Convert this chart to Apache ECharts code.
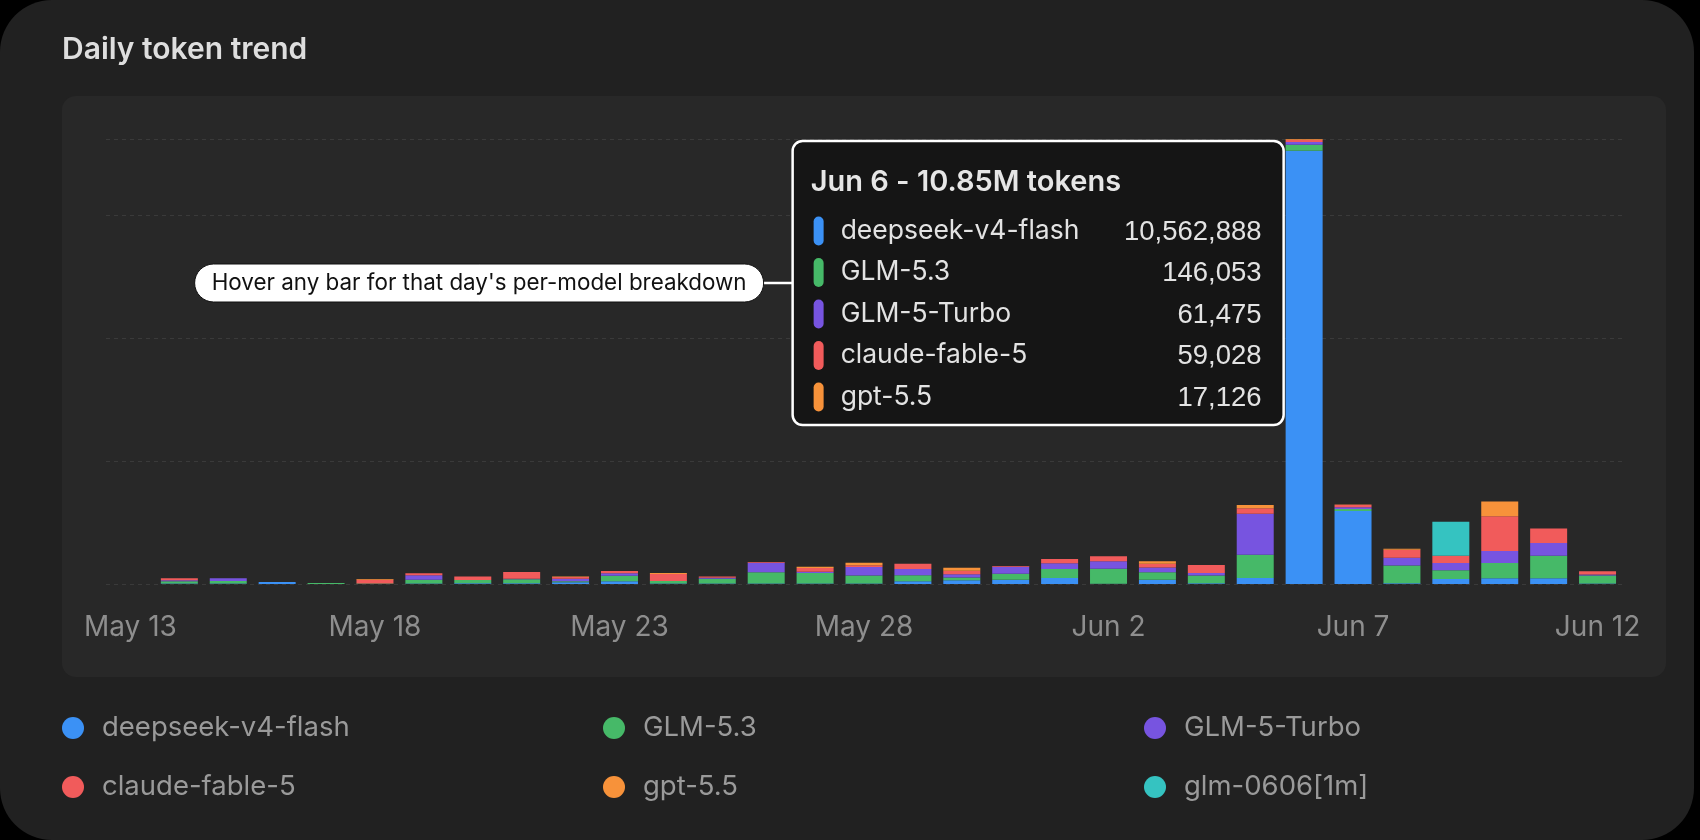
<!DOCTYPE html>
<html>
<head>
<meta charset="utf-8">
<title>Daily token trend</title>
<script src="https://cdn.jsdelivr.net/npm/echarts@6/dist/echarts.min.js"></script>
<style>
  html, body { margin: 0; padding: 0; background: #000; }
  #card { position: absolute; left: 0; top: 0; width: 1694px; height: 840px; border-radius: 52px; background: #212121; overflow: hidden; }
  #chart { width: 1694px; height: 840px; }
</style>
</head>
<body>
<div id="card"><div id="chart"></div></div>
<script>
// categories
var days = ['May 13', 'May 14', 'May 15', 'May 16', 'May 17', 'May 18', 'May 19', 'May 20',
    'May 21', 'May 22', 'May 23', 'May 24', 'May 25', 'May 26', 'May 27', 'May 28', 'May 29',
    'May 30', 'May 31', 'Jun 1', 'Jun 2', 'Jun 3', 'Jun 4', 'Jun 5', 'Jun 6', 'Jun 7', 'Jun 8',
    'Jun 9', 'Jun 10', 'Jun 11', 'Jun 12'];

var modelNames = ['deepseek-v4-flash', 'GLM-5.3', 'GLM-5-Turbo', 'claude-fable-5', 'gpt-5.5', 'glm-0606[1m]'];
var modelColors = ['#3b91f5', '#46b968', '#7754e0', '#f15b5b', '#f7923a', '#35c3c1'];

// tokens per day, one array per model
var deepseekV4Flash = [0, 10000, 15000, 50000, 0, 0, 10000, 20000, 20000, 40000, 65000, 10000, 10000, 10000, 10000, 10000,
    70000, 90000, 105000, 145000, 5000, 105000, 20000, 146000, 10562888, 1780000, 20000, 122000, 138000, 138000, 10000];
var glm53 = [0, 60000, 60000, 0, 24000, 10000, 95000, 80000, 95000, 30000, 135000, 65000, 115000, 275000, 260000, 200000,
    145000, 70000, 145000, 220000, 365000, 180000, 185000, 569000, 146053, 50000, 430000, 211000, 374000, 553000, 200000];
var glm5Turbo = [0, 20000, 65000, 0, 0, 0, 110000, 0, 10000, 55000, 65000, 0, 25000, 235000, 30000, 205000,
    150000, 80000, 170000, 140000, 185000, 120000, 65000, 1000000, 61475, 40000, 187000, 179000, 293000, 309000, 20000];
var claudeFable5 = [0, 50000, 0, 0, 0, 95000, 45000, 85000, 165000, 45000, 50000, 170000, 30000, 16000, 90000, 40000,
    130000, 85000, 18000, 105000, 120000, 90000, 195000, 130000, 59028, 60000, 200000, 179000, 846000, 350000, 80000];
var gpt55 = [0, 0, 0, 0, 0, 15000, 0, 0, 0, 10000, 0, 25000, 0, 0, 32000, 65000,
    0, 70000, 0, 0, 0, 57000, 0, 81000, 17126, 10000, 24000, 0, 358000, 0, 0];
var glm0606 = [0, 0, 0, 0, 0, 0, 0, 0, 0, 0, 0, 0, 0, 0, 0, 0,
    0, 0, 0, 0, 0, 0, 0, 0, 0, 0, 0, 829000, 0, 0, 0];

var modelData = [deepseekV4Flash, glm53, glm5Turbo, claudeFable5, gpt55, glm0606];

var yInterval = 3000000;
var highlightDay = 'Jun 6';
var calloutText = "Hover any bar for that day's per-model breakdown";

var FONT = 'Inter, "Noto Sans", sans-serif';
var NUM_FONT = '"Liberation Sans", Arial, sans-serif';

var dayTotals = days.map(function (d, i) {
    var s = 0;
    modelData.forEach(function (arr) { s += arr[i]; });
    return s;
});
var maxTotal = Math.max.apply(null, dayTotals);

var chart = echarts.init(document.getElementById('chart'));

var series = modelNames.map(function (name, k) {
    return {
        name: name,
        type: 'bar',
        stack: 'tokens',
        barWidth: 37,
        itemStyle: { color: modelColors[k] },
        data: modelData[k]
    };
});

var legendText = { color: '#9a9a9a', fontSize: 27.5, fontFamily: FONT, lineHeight: 22, padding: [0, 0, 0, 13] };
function legendCol(left, names) {
    return {
        orient: 'vertical', left: left, top: 714, itemGap: 31, padding: 0,
        icon: 'circle', itemWidth: 22, itemHeight: 22,
        selectedMode: false,
        textStyle: legendText,
        data: names
    };
}

var option = {
    animation: false,
    backgroundColor: 'transparent',
    title: {
        text: 'Daily token trend',
        left: 57, top: 30,
        textStyle: { color: '#dedede', fontSize: 30, fontWeight: 600, fontFamily: FONT }
    },
    legend: [
        legendCol(62, [modelNames[0], modelNames[3]]),
        legendCol(603, [modelNames[1], modelNames[4]]),
        legendCol(1144, [modelNames[2], modelNames[5]])
    ],
    grid: { left: 106, right: 72, top: 139, bottom: 256 },
    xAxis: {
        type: 'category',
        data: days,
        axisLine: { show: false },
        axisTick: { show: false },
        axisLabel: { interval: 4, color: '#8e8e8e', fontSize: 28, fontFamily: FONT, margin: 30 }
    },
    yAxis: {
        type: 'value',
        min: 0,
        max: maxTotal,
        interval: yInterval,
        axisLabel: { show: false },
        axisLine: { show: false },
        axisTick: { show: false },
        splitLine: { lineStyle: { color: '#3a3a3a', type: [4, 4], width: 1 } }
    },
    graphic: { elements: [] },
    series: series
};
chart.setOption(option);

// static tooltip for the highlighted day + callout pill
function buildTip() {
    var hi = days.indexOf(highlightDay);
    var barX = chart.convertToPixel({ xAxisIndex: 0 }, hi);
    var topY = chart.convertToPixel({ yAxisIndex: 0 }, dayTotals[hi]);
    var boxW = 491, boxH = 284;
    var L = barX - 37 / 2 - 2 - boxW;
    var T = topY + 2;

    var els = [{
        type: 'rect', z: -100, silent: true,
        shape: { x: 62, y: 96, width: 1604, height: 581, r: 14 },
        style: { fill: '#282828' }
    }, {
        type: 'rect', z: 100,
        shape: { x: L, y: T, width: boxW, height: boxH, r: 10 },
        style: { fill: '#151515', stroke: '#ffffff', lineWidth: 2.5 }
    }, {
        type: 'text', z: 101,
        style: {
            text: highlightDay + ' - ' + (dayTotals[hi] / 1e6).toFixed(2) + 'M tokens',
            x: L + 18, y: T + 41, textAlign: 'left', textVerticalAlign: 'middle',
            font: '600 29px ' + FONT, fill: '#e6e6e6'
        }
    }];

    var row = 0;
    modelNames.forEach(function (name, k) {
        var v = modelData[k][hi];
        if (!v) return;
        var cy = T + 90 + row * 41.5;
        els.push({
            type: 'rect', z: 101,
            shape: { x: L + 21, y: cy - 14.5, width: 10, height: 29, r: 5 },
            style: { fill: modelColors[k] }
        });
        els.push({
            type: 'text', z: 101,
            style: { text: name, x: L + 48, y: cy, textAlign: 'left', textVerticalAlign: 'middle',
                font: '26.5px ' + FONT, fill: '#e3e3e3' }
        });
        els.push({
            type: 'text', z: 101,
            style: { text: v.toLocaleString('en-US'), x: L + 469, y: cy + 1, textAlign: 'right', textVerticalAlign: 'middle',
                font: '27.5px ' + NUM_FONT, fill: '#e3e3e3' }
        });
        row++;
    });

    // callout pill pointing at the tooltip
    var midY = T + boxH / 2;
    var pillW = 569, pillH = 38;
    var pillX = L - 29 - pillW;
    els.push({
        type: 'line', z: 99,
        shape: { x1: pillX + pillW, y1: midY, x2: L, y2: midY },
        style: { stroke: '#ffffff', lineWidth: 2.5 }
    });
    els.push({
        type: 'rect', z: 100,
        shape: { x: pillX, y: midY - pillH / 2, width: pillW, height: pillH, r: pillH / 2 },
        style: { fill: '#ffffff', stroke: '#111111', lineWidth: 1 }
    });
    els.push({
        type: 'text', z: 101,
        style: { text: calloutText, x: pillX + pillW / 2, y: midY, textAlign: 'center', textVerticalAlign: 'middle',
            font: '22.4px ' + FONT, fill: '#111111' }
    });

    chart.setOption({ graphic: { elements: els } });
}
buildTip();
</script>
</body>
</html>
